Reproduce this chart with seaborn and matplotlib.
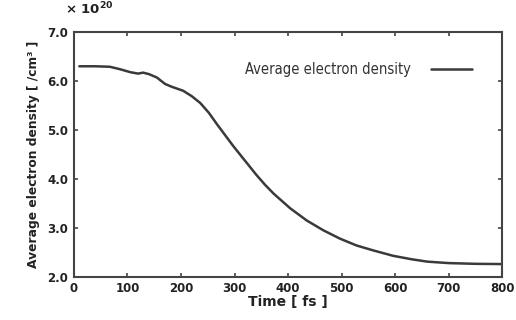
import numpy as np
import pandas as pd
import matplotlib
matplotlib.use("Agg")
import matplotlib.pyplot as plt
import seaborn as sns

# --- values ---
time_fs = [10, 40, 67, 86, 105, 120, 129, 140, 155, 170, 183, 204, 220, 236,
           252, 267, 282, 297, 316, 330, 341, 357, 373, 404, 435, 466, 497,
           528, 559, 596, 630, 660, 700, 750, 800]
density = [6.30, 6.30, 6.29, 6.24, 6.18, 6.15, 6.17, 6.14, 6.07, 5.94, 5.88,
           5.80, 5.69, 5.55, 5.35, 5.12, 4.90, 4.68, 4.42, 4.23, 4.08, 3.88,
           3.70, 3.40, 3.15, 2.95, 2.78, 2.64, 2.54, 2.43, 2.36, 2.31, 2.28,
           2.265, 2.26]
x_ticks = [0, 100, 200, 300, 400, 500, 600, 700, 800]
y_ticks = [2.0, 3.0, 4.0, 5.0, 6.0, 7.0]

df = pd.DataFrame({'Time': time_fs, 'Density': density})

sns.set_theme(style="ticks")
plt.rcParams['font.family'] = ['DejaVu Sans']

fig = plt.figure(figsize=(5.16, 3.2), dpi=100)
ax = fig.add_axes([0.1434, 0.135, 0.8295, 0.765])

sns.lineplot(data=df, x='Time', y='Density', ax=ax, color='#3a3a3a',
             linewidth=1.8, label='Average electron density')

ax.set_xlim(0, 800)
ax.set_ylim(2.0, 7.0)
ax.set_xticks(x_ticks)
ax.set_yticks(y_ticks)
ax.set_yticklabels([f'{v:.1f}' for v in y_ticks])

for side in ['top', 'right', 'left', 'bottom']:
    ax.spines[side].set_visible(True)
    ax.spines[side].set_color('#444444')
    ax.spines[side].set_linewidth(1.5)

ax.tick_params(direction='in', length=3, width=1.2, color='#444444',
               top=True, right=True, labelsize=8.5, labelcolor='#222222', pad=4)
for lbl in ax.get_xticklabels() + ax.get_yticklabels():
    lbl.set_fontweight('bold')

ax.set_xlabel('Time [ fs ]', fontsize=10, fontweight='bold', color='#222222', labelpad=0)
ax.set_ylabel('Average electron density [ /cm³ ]', fontsize=8.8, fontweight='bold',
              color='#222222', labelpad=5)

ax.text(-0.02, 1.06, r'× 10$^{\mathbf{20}}$', transform=ax.transAxes,
        fontsize=9.5, fontweight='bold', color='#222222', ha='left', va='bottom')

leg = ax.legend(loc='center', bbox_to_anchor=(0.665, 0.845), frameon=False,
                markerfirst=False, handlelength=2.8, handletextpad=1.4,
                prop={'family': 'DejaVu Sans', 'stretch': 'condensed', 'size': 10.5})
for t in leg.get_texts():
    t.set_color('#333333')

fig.savefig('out.png', dpi=100, facecolor='white')
